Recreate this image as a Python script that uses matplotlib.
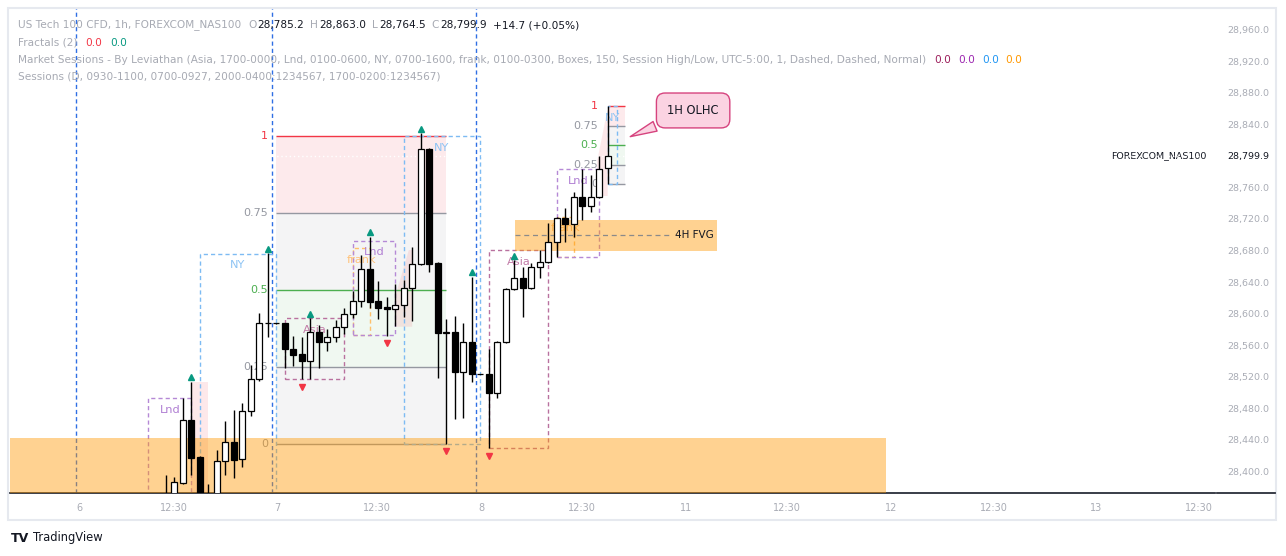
import matplotlib
matplotlib.use("Agg")
import matplotlib.pyplot as plt
from matplotlib.patches import Rectangle, Polygon
from matplotlib.lines import Line2D
import numpy as np

plt.rcParams["font.family"] = ["DejaVu Sans"]

W, H = 1286, 556

# 1h candles, bar 0 = first visible bar (bodies below 28,372 are off-screen)
opens = [28360, 28365, 28385.1, 28464.8, 28417.8, 28345, 28368, 28413.1, 28436.4, 28414.9,
         28476.2, 28516.4, 28587.6, 28587.6, 28587.6, 28554.9, 28548.2, 28539.3, 28576.1, 28563.4,
         28569.8, 28582.5, 28599.0, 28615.9, 28656.1, 28615.9, 28607.9, 28605.3, 28610.4, 28633.0,
         28662.5, 28808.5, 28663.7, 28575.6, 28576.0, 28525.3, 28563.4, 28523.2, 28523.2, 28499.4,
         28563.4, 28630.7, 28644.7, 28632.8, 28658.7, 28665.0, 28690.4, 28720.9, 28713.3, 28747.6,
         28736.9, 28748.3, 28785.2]
highs = [28394.9, 28392.0, 28492.3, 28513.4, 28419.4, 28383.5, 28426.7, 28463.5, 28477.5, 28486.0,
         28534.6, 28600.3, 28676.8, 28588.0, 28588.0, 28571.4, 28569.8, 28593.9, 28585.4, 28580.3,
         28591.7, 28606.6, 28629.0, 28674.3, 28697.5, 28641.3, 28620.6, 28637.1, 28642.5, 28684.8,
         28828.8, 28809.8, 28665.8, 28592.6, 28596.8, 28588.3, 28646.7, 28523.5, 28554.5, 28565.5,
         28632.0, 28667.9, 28659.4, 28663.7, 28680.6, 28715.3, 28722.9, 28733.6, 28754.7, 28783.5,
         28775.9, 28800.0, 28863.0]
lows = [28345, 28355, 28383.5, 28394.9, 28340, 28335, 28360, 28394.9, 28390.7, 28405.5,
        28470.5, 28514.7, 28570.2, 28587.0, 28530.4, 28533.7, 28516.8, 28516.8, 28531.2, 28552.4,
        28564.2, 28574.0, 28594.7, 28607.9, 28606.6, 28592.6, 28571.8, 28584.1, 28595.9, 28590.5,
        28661.0, 28653.1, 28517.7, 28434.3, 28465.7, 28466.9, 28513.4, 28523.0, 28428.8, 28493.1,
        28562.0, 28630.0, 28595.9, 28630.7, 28644.7, 28664.0, 28671.4, 28691.2, 28697.5, 28718.7,
        28728.5, 28747.0, 28764.5]
closes = [28368, 28385.6, 28464.8, 28416.9, 28350, 28368, 28413.1, 28436.4, 28414.0, 28476.2,
          28516.4, 28587.6, 28588.5, 28587.6, 28554.5, 28547.7, 28539.3, 28576.1, 28563.4, 28569.8,
          28582.5, 28599.0, 28615.9, 28656.1, 28615.0, 28607.4, 28605.3, 28610.4, 28633.0, 28662.5,
          28808.5, 28662.9, 28575.6, 28576.0, 28525.3, 28563.4, 28523.2, 28523.2, 28499.4, 28563.4,
          28630.7, 28644.7, 28632.8, 28658.7, 28665.0, 28690.4, 28720.9, 28713.3, 28747.6, 28736.9,
          28748.3, 28783.1, 28799.9]

frac_up = [3, 12, 17, 24, 30, 36, 41]
frac_dn = [16, 26, 33, 38]

# session boxes
sess_names = ["Lnd", "NY", "Asia", "frank", "Lnd", "NY", "Asia", "frank", "Lnd", "NY"]
sess_x0 = [-2.05, 4, 14, 22, 22, 28, 38, 46, 46, 52]
sess_x1 = [3, 13, 21, 24, 27, 37, 45, 48, 51, 53.05]
sess_hi = [28492.3, 28675.6, 28593.9, 28682.8, 28692.4, 28825.4, 28680.6, 28722.9, 28783.1, 28863.0]
sess_lo = [28300, 28300, 28516.8, 28572.7, 28572.7, 28434.3, 28428.8, 28672.1, 28671.4, 28764.5]
sess_edge = {"Lnd": "#b589d6", "NY": "#7dbbf3", "Asia": "#b9719f", "frank": "#ffc06a"}
sess_text = {"Lnd": "#b07fd3", "NY": "#8ec4f4", "Asia": "#c27ca8", "frank": "#ffc27a"}

# fib boxes (big one on the NY range, small one on the last 1h candle)
fib_x0 = [13, 52]
fib_x1 = [33, 54]
fib_hi = [28825.4, 28863.0]
fib_lo = [28434.3, 28764.5]
fib_levels = [1, 0.75, 0.5, 0.25, 0]
fib_labels = ["1", "0.75", "0.5", "0.25", "0"]
fib_colors = ["#f23645", "#9598a1", "#4caf50", "#9598a1", "#9598a1"]

# pink shaded areas
shade1 = [(3, 28300), (3, 28513.4), (5, 28513.4), (5, 28300)]
shade2 = [(27, 28583.2), (27, 28621.3), (28.6, 28680.6), (29, 28680.6), (29, 28583.2)]
shade3 = [(50.75, 28749.2), (50.75, 28792.8), (52, 28860.6), (52, 28749.2)]

# orange zones: bottom demand zone and 4H FVG
zone_x0 = [-18.4, 41.1]
zone_x1 = [84.7, 64.9]
zone_hi = [28441.9, 28718.7]
zone_lo = [28300, 28679.7]
fvg_mid = 28699.2

day_lines = [-10.5, 12.5, 36.5]
xtick_pos = [-10.1, 1.0, 13.1, 24.9, 37.2, 49.0, 61.2, 73.1, 85.4, 97.4, 109.4, 121.6]
xtick_lbl = ["6", "12:30", "7", "12:30", "8", "12:30", "11", "12:30", "12", "12:30", "13", "12:30"]
ytick_vals = [v for v in range(28400, 28961, 40) if v != 28800]

fig = plt.figure(figsize=(W / 100, H / 100), dpi=100)
fig.patch.set_facecolor("white")
ax = fig.add_axes([10 / W, (H - 493) / H, (1215 - 10) / W, (493 - 8) / H])
ax.set_xlim(-18.32, 123.45)
ax.set_ylim(28372.1, 28987.9)
ax.set_facecolor("white")
for s in ["top", "left", "right"]:
    ax.spines[s].set_visible(False)
ax.spines["bottom"].set_color("#2a2e39")
ax.spines["bottom"].set_linewidth(1.3)

dash = (0, (3, 2.2))

# day separators
for x in day_lines:
    ax.axvline(x, color="#2f6fe4", ls=dash, lw=1, zorder=1)

# fib boxes
for x0, x1, hi, lo, off in zip(fib_x0, fib_x1, fib_hi, fib_lo, [-6, -7]):
    lv = [lo + f * (hi - lo) for f in fib_levels]
    fills = [("#f23645", 0.10), ("#787b86", 0.08), ("#4caf50", 0.08), ("#787b86", 0.08)]
    for k, (fc, a) in enumerate(fills):
        ax.add_patch(Rectangle((x0, lv[k + 1]), x1 - x0, lv[k] - lv[k + 1], fc=fc, alpha=a, lw=0, zorder=0.5))
    for y, lab, col in zip(lv, fib_labels, fib_colors):
        ax.hlines(y, x0, x1, color=col, lw=1, zorder=2)
        ax.annotate(lab, xy=(x0, y), xytext=(off, 0), textcoords="offset points",
                    ha="right", va="center", color=col, fontsize=8.0, zorder=2)

# pink shades
for pts in [shade1, shade2, shade3]:
    ax.add_patch(Polygon(pts, closed=True, fc="#f23645", alpha=0.11, lw=0, zorder=0.6))

# session boxes
for name, x0, x1, hi, lo in zip(sess_names, sess_x0, sess_x1, sess_hi, sess_lo):
    ax.add_patch(Rectangle((x0, lo), x1 - x0, hi - lo, fill=False, ec=sess_edge[name],
                           ls=dash, lw=1, zorder=2))
    ax.annotate(name, xy=((x0 + x1) / 2, hi), xytext=(0, -8.3), textcoords="offset points",
                ha="center", va="center", color=sess_text[name], fontsize=8.2, zorder=2.2)

# orange zones
for x0, x1, hi, lo in zip(zone_x0, zone_x1, zone_hi, zone_lo):
    ax.add_patch(Rectangle((x0, lo), x1 - x0, hi - lo, fc="#ff9800", alpha=0.43, lw=0, zorder=3))
ax.hlines(fvg_mid, zone_x0[1], 59.3, color="#8a8a8a", ls=(0, (4, 3)), lw=0.9, zorder=3.2)
ax.text(62.2, fvg_mid, "4H FVG", ha="center", va="center", fontsize=7.5, color="#131722", zorder=3.3)

# last price dotted line
ax.axhline(closes[-1], color="white", ls=(0, (1, 2)), lw=1, zorder=3.5)

# candles
idx = np.arange(len(opens))
o = np.array(opens)
c = np.array(closes)
hh = np.array(highs)
ll = np.array(lows)
up = c >= o
ax.vlines(idx, ll, hh, color="black", lw=1, zorder=4)
ax.bar(idx, np.abs(c - o), bottom=np.minimum(o, c), width=0.74,
       color=np.where(up, "white", "black"), edgecolor="black", linewidth=0.9, zorder=5)

# fractals
ax.plot(frac_up, hh[frac_up] + 5.7, marker="^", ls="none", color="#089981", ms=4.8, zorder=6)
ax.plot(frac_dn, ll[frac_dn] - 9.5, marker="v", ls="none", color="#f23645", ms=4.8, zorder=6)

# callout
ax.annotate("1H OLHC", xy=(54.35, 28823.2), xytext=(62.05, 28857.8), textcoords="data",
            ha="center", va="center", fontsize=8.3, color="#131722", zorder=7,
            bbox=dict(boxstyle="round,pad=0.95,rounding_size=0.75", fc="#fbd3e2", ec="#d6437e", lw=1),
            arrowprops=dict(arrowstyle="wedge,tail_width=0.9", fc="#fbd3e2", ec="#d6437e", lw=1))

# axes ticks
ax.set_xticks(xtick_pos)
ax.set_xticklabels(xtick_lbl)
ax.tick_params(axis="x", length=0, pad=7, labelsize=7.0, labelcolor="#a9acb5")
ax.yaxis.tick_right()
ax.set_yticks(ytick_vals)
ax.set_yticklabels([f"{v:,.1f}" for v in ytick_vals])
ax.tick_params(axis="y", length=0, pad=9, labelsize=6.8, labelcolor="#a9acb5")
ax.annotate(f"{closes[-1]:,.1f}", xy=(1, closes[-1]), xycoords=("axes fraction", "data"),
            xytext=(9, 0), textcoords="offset points", ha="left", va="center",
            fontsize=6.8, color="#131722", annotation_clip=False)
ax.annotate("FOREXCOM_NAS100", xy=(1, closes[-1]), xycoords=("axes fraction", "data"),
            xytext=(-6, 0), textcoords="offset points", ha="right", va="center",
            fontsize=6.8, color="#131722", annotation_clip=False)

# frame and axis line under the price scale
fig.add_artist(Line2D([1217 / W, 1275 / W], [1 - 493 / H] * 2, color="#2a2e39", lw=1.3))
fig.add_artist(Rectangle((8 / W, 1 - 520 / H), (1276 - 8) / W, (520 - 8) / H,
                         transform=fig.transFigure, fill=False, ec="#e6e9ef", lw=1.5))

# legend rows at the top left
renderer = fig.canvas.get_renderer()
GREY = "#a7aab3"


def row(y, parts, x=18):
    for s, col, gap in parts:
        t = fig.text(x / W, 1 - y / H, s, color=col, fontsize=7.6, ha="left", va="center")
        x += t.get_window_extent(renderer).width + gap


row(25, [("US Tech 100 CFD, 1h, FOREXCOM_NAS100", GREY, 7), ("O", GREY, 1), ("28,785.2", "#131722", 6),
         ("H", GREY, 1), ("28,863.0", "#131722", 6), ("L", GREY, 1), ("28,764.5", "#131722", 6),
         ("C", GREY, 1), ("28,799.9", "#131722", 6), ("+14.7 (+0.05%)", "#131722", 0)])
row(42.7, [("Fractals (2)", GREY, 8), ("0.0", "#f23645", 8), ("0.0", "#089981", 0)])
row(60, [("Market Sessions - By Leviathan (Asia, 1700-0000, Lnd, 0100-0600, NY, 0700-1600, frank, "
          "0100-0300, Boxes, 150, Session High/Low, UTC-5:00, 1, Dashed, Dashed, Normal)", GREY, 8),
         ("0.0", "#9c1e5b", 7), ("0.0", "#9c27b0", 7), ("0.0", "#2196f3", 7), ("0.0", "#ff9800", 0)])
row(76.7, [("Sessions (D, 0930-1100, 0700-0927, 2000-0400:1234567, 1700-0200:1234567)", GREY, 0)])

# TradingView mark
fig.text(11 / W, 1 - 538 / H, "TV", fontsize=9, fontweight="heavy", color="#131722", va="center")
fig.text(33 / W, 1 - 538 / H, "TradingView", fontsize=8.3, color="#131722", va="center")

fig.savefig("out.png", dpi=100, facecolor="white")
